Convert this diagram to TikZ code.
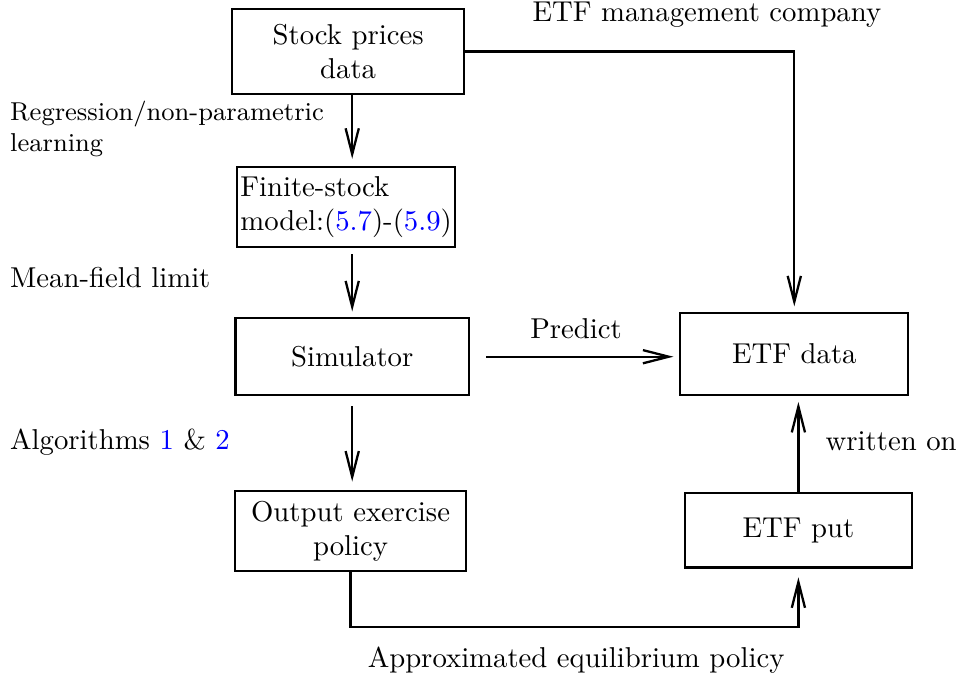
\documentclass[tikz,border=0pt]{standalone}
\usetikzlibrary{arrows.meta}
\begin{document}
\begin{tikzpicture}[
    box/.style={draw, thick, minimum height=0.92cm, align=center},
    arr/.style={thick, -{Straight Barb[length=9pt,width=4.6pt]}},
    lbl/.style={anchor=west, align=left}]
    \useasboundingbox (0,0) rectangle (11.76,8.30);
    % Boxes
    \node[box, minimum width=2.84cm, minimum height=1.04cm] (stock) at (4.26,7.67) {Stock prices\\ data};
    \node[box, minimum width=2.67cm, minimum height=0.98cm, align=left, inner sep=1pt] (finite) at (4.235,5.765) {Finite-stock\\model:(\textcolor{blue}{5.7})-(\textcolor{blue}{5.9})};
    \node[box, minimum width=2.86cm, minimum height=0.94cm] (sim) at (4.31,3.935) {Simulator};
    \node[box, minimum width=2.83cm, minimum height=0.91cm] (output) at (4.29,1.80) {Output exercise\\ policy};
    \node[box, minimum width=2.79cm, minimum height=1.0cm] (etf) at (9.72,3.966) {ETF data};
    \node[box, minimum width=2.78cm, minimum height=0.91cm] (put) at (9.77,1.81) {ETF put};
    \coordinate (low) at (7,0.624);
    % Labels
    \node (mgmt) at (8.65,8.12) {ETF management company};
    \node[lbl, font=\small] (regr) at (0.0,6.72) {Regression/non-parametric\\learning};
    \node[lbl] (mfl) at (0.0,4.90) {Mean-field limit};
    \node[lbl] (algo) at (0.0,2.89) {Algorithms \textcolor{blue}{1} \& \textcolor{blue}{2}};
    \node (pred) at (7.05,4.28) {Predict};
    \node[lbl] (wrt) at (9.98,2.90) {written on};
    \node (approx) at (7.05,0.22) {Approximated equilibrium policy};
    % Arrows
    \draw[arr, shorten >=2.5pt] (stock.south -| 4.31,0) -- (finite.north -| 4.31,0);
    \draw[arr, shorten >=2pt] (stock.east) -| (etf.north);
    \draw[arr, shorten <=2pt, shorten >=2pt] (finite.south -| 4.31,0) -- (sim.north);
    \draw[arr, shorten <=5.6pt, shorten >=2pt] (sim.east) -- (sim.east -| etf.west);
    \draw[arr, shorten <=3.5pt, shorten >=3pt] (sim.south) -- (output.north -| sim.south);
    \draw[arr, shorten >=2pt] (put.north) -- (etf.south -| put.north);
    \draw[arr, shorten >=3pt] (output.south) |- (low) -| (put.south);
\end{tikzpicture}
\end{document}
